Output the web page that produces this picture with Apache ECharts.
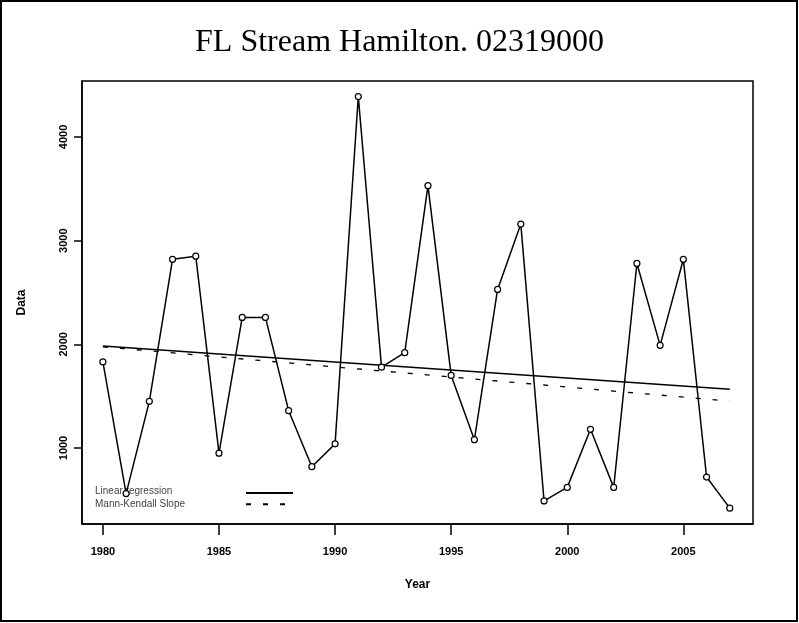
<!DOCTYPE html>
<html>
<head>
<meta charset="utf-8">
<script src="https://cdn.jsdelivr.net/npm/echarts@6/dist/echarts.min.js"></script>
<style>
html,body{margin:0;padding:0;background:#fff;}
#chart{width:799px;height:623px;}
</style>
</head>
<body>
<div id="chart"></div>
<script>
var years = [1980,1981,1982,1983,1984,1985,1986,1987,1988,1989,1990,1991,1992,1993,1994,1995,1996,1997,1998,1999,2000,2001,2002,2003,2004,2005,2006,2007];
var flowValues = [1830,560,1450,2820,2850,950,2260,2260,1360,820,1040,4390,1780,1920,3530,1700,1080,2530,3160,490,620,1180,620,2780,1990,2820,720,420];
var trendYears = [1980, 2007];
var linearRegression = [1984, 1566];
var mannKendall = [1976, 1452];
var xTicks = [1980,1985,1990,1995,2000,2005];
var yTicks = [1000,2000,3000,4000];
var legendNames = ['Linear regression','Mann-Kendall Slope'];

function pairs(xs, ys){ return xs.map(function(x,i){ return [x, ys[i]]; }); }

var chart = echarts.init(document.getElementById('chart'));
var axisFont = {fontFamily:'Liberation Sans', fontWeight:'bold', fontSize:11, color:'#000'};
var legendFont = {fontFamily:'Liberation Sans', fontSize:10, fill:'#444'};
chart.setOption({
  backgroundColor:'#fff',
  animation:false,
  title:{
    text:'FL Stream Hamilton. 02319000',
    left:'center', top:22,
    textStyle:{fontFamily:'Liberation Serif', fontWeight:'normal', fontSize:32, color:'#000'}
  },
  grid:{left:82, right:46, top:81, bottom:99, show:true, borderColor:'#000', borderWidth:1.5, backgroundColor:'#fff'},
  legend:{
    data:legendNames,
    orient:'vertical', left:240, top:484, align:'left',
    itemWidth:47, itemHeight:8, itemGap:4,
    itemStyle:{color:'rgba(0,0,0,0)', borderWidth:0, opacity:0},
    formatter:function(){ return ''; },
    textStyle:{fontSize:8}
  },
  xAxis:{
    type:'value', min:1979.1, max:2008.0,
    name:'Year', nameLocation:'middle', nameGap:55,
    nameTextStyle:{fontFamily:'Liberation Sans', fontWeight:'bold', fontSize:12, color:'#000'},
    axisLine:{show:true, onZero:false, lineStyle:{color:'#000', width:1.5}},
    axisTick:{show:true, length:11, customValues:xTicks, lineStyle:{color:'#000', width:1.5}},
    axisLabel:Object.assign({customValues:xTicks, margin:22, formatter:function(v){return String(v);}}, axisFont),
    splitLine:{show:false}
  },
  yAxis:{
    type:'value', min:267, max:4540,
    name:'Data', nameLocation:'middle', nameGap:54,
    nameTextStyle:{fontFamily:'Liberation Sans', fontWeight:'bold', fontSize:12, color:'#000'},
    axisLine:{show:true, onZero:false, lineStyle:{color:'#000', width:1.5}},
    axisTick:{show:true, length:8, customValues:yTicks, lineStyle:{color:'#000', width:1.5}},
    axisLabel:Object.assign({customValues:yTicks, margin:13, rotate:90, formatter:function(v){return String(v);}}, axisFont),
    splitLine:{show:false}
  },
  series:[
    {
      name:'Data', type:'line', data:pairs(years, flowValues),
      symbol:'circle', symbolSize:6, showSymbol:true,
      itemStyle:{color:'#fff', borderColor:'#000', borderWidth:1.2},
      lineStyle:{color:'#000', width:1.5}, z:3
    },
    {
      name:legendNames[0], type:'line', data:pairs(trendYears, linearRegression),
      symbol:'none', itemStyle:{color:'#000'},
      lineStyle:{color:'#000', width:1.5}, z:2
    },
    {
      name:legendNames[1], type:'line', data:pairs(trendYears, mannKendall),
      symbol:'none', itemStyle:{color:'#000'},
      lineStyle:{color:'#000', width:1.3, type:[5,12]}, z:2
    }
  ],
  graphic:[
    {type:'rect', shape:{x:1, y:1, width:796, height:620}, style:{fill:'none', stroke:'#000', lineWidth:2}, silent:true, z:-1},
    {type:'text', left:95, top:486, style:Object.assign({text:legendNames[0]}, legendFont), silent:true},
    {type:'text', left:95, top:499, style:Object.assign({text:legendNames[1]}, legendFont), silent:true}
  ]
});
</script>
</body>
</html>
